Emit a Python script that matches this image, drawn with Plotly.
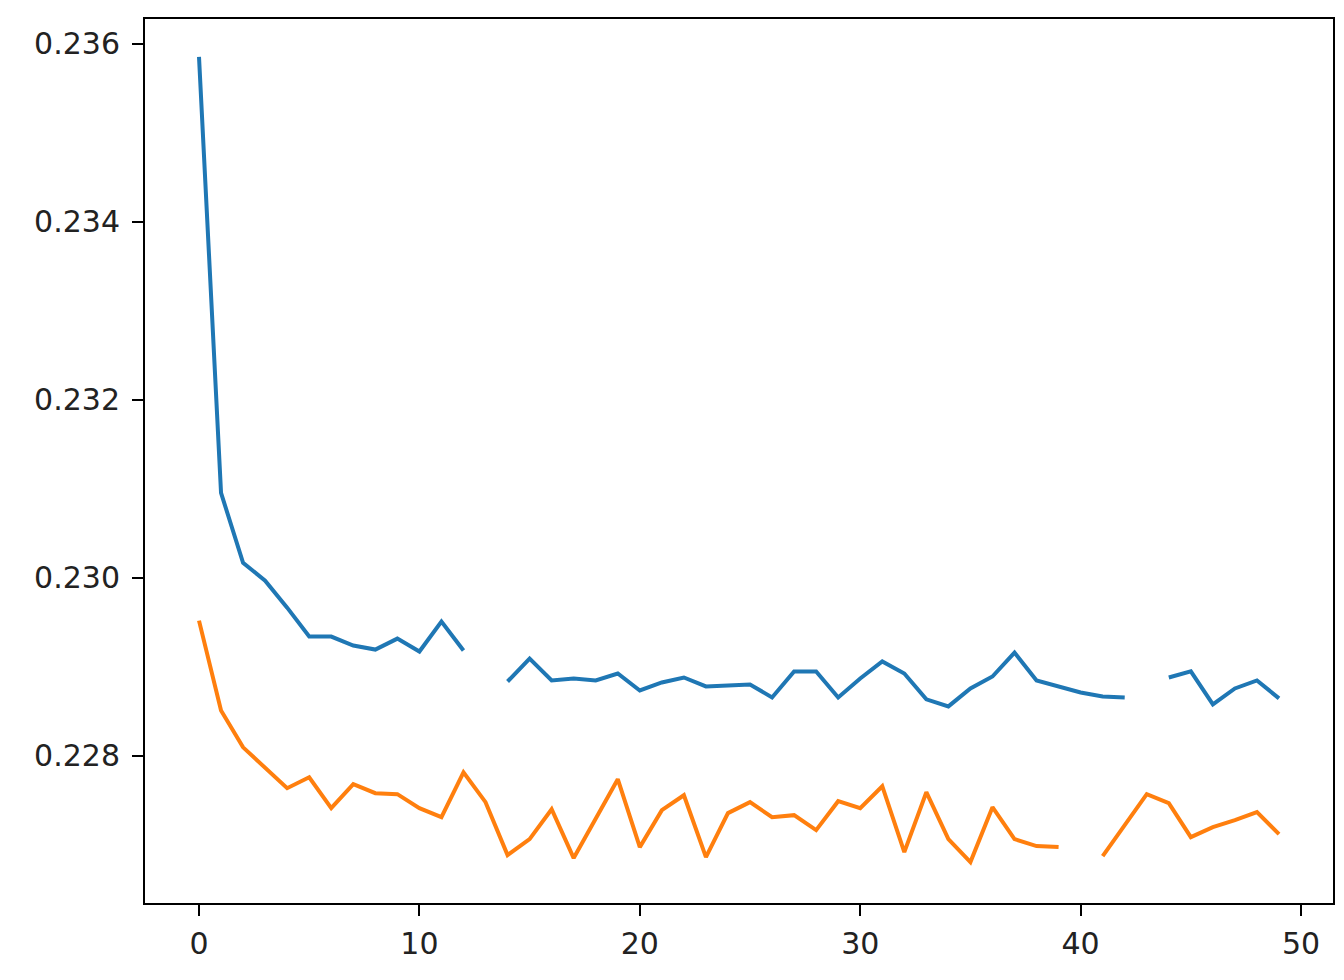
import plotly.graph_objects as go

# ── data ──────────────────────────────────────────────────────────────────
epochs = list(range(50))

blue_vals = [
    0.235854, 0.230955, 0.230170, 0.229969, 0.229666, 0.229341, 0.229341, 0.229240,
    0.229195, 0.229318, 0.229173, 0.229509, 0.229184, None, 0.228836, 0.229094,
    0.228848, 0.228870, 0.228848, 0.228926, 0.228735, 0.228825, 0.228881, 0.228780,
    0.228791, 0.228803, 0.228657, 0.228949, 0.228949, 0.228657, 0.228870, 0.229061,
    0.228926, 0.228635, 0.228556, 0.228758, 0.228892, 0.229161, 0.228848, 0.228780,
    0.228713, 0.228668, 0.228657, None, 0.228881, 0.228949, 0.228578, 0.228758,
    0.228848, 0.228646,
]

orange_vals = [
    0.229520, 0.228511, 0.228096, 0.227872, 0.227637, 0.227760, 0.227413, 0.227682,
    0.227581, 0.227570, 0.227413, 0.227312, 0.227816, 0.227480, 0.226886, 0.227065,
    0.227401, 0.226852, 0.227300, 0.227738, 0.226975, 0.227390, 0.227558, 0.226863,
    0.227357, 0.227480, 0.227312, 0.227334, 0.227166, 0.227491, 0.227413, 0.227659,
    0.226919, 0.227592, 0.227065, 0.226807, 0.227424, 0.227065, 0.226987, 0.226975,
    None, 0.226874, 0.227222, 0.227570, 0.227469, 0.227087, 0.227200, 0.227278,
    0.227368, 0.227121,
]

x_ticks = [0, 10, 20, 30, 40, 50]
y_ticks = [0.228, 0.230, 0.232, 0.234, 0.236]

# ── colours ──────────────────────────────────────────────────────────────
COLOR_BLUE   = '#1f77b4'
COLOR_ORANGE = '#ff7f0e'

fig = go.Figure()

for vals, color in [(blue_vals, COLOR_BLUE), (orange_vals, COLOR_ORANGE)]:
    fig.add_trace(go.Scatter(
        x          = epochs,
        y          = vals,
        mode       = 'lines',
        line       = dict(color=color, width=4),
        connectgaps = False,
        showlegend = False,
    ))

axis_style = dict(
    showline  = True,
    linecolor = 'black',
    linewidth = 2,
    mirror    = True,
    ticks     = 'outside',
    ticklen   = 11,
    tickwidth = 2,
    tickcolor = 'black',
    showgrid  = False,
    zeroline  = False,
    tickfont  = dict(family='DejaVu Sans', size=30, color='#222222'),
)

# page body has an 8px margin, so the figure is sized/offset to fit the window
fig.update_layout(
    width        = 1336,
    height       = 972,
    plot_bgcolor = 'white',
    paper_bgcolor = 'white',
    margin       = dict(l=137, r=9, t=9, b=77),
    xaxis        = dict(**axis_style, range=[-2.45, 51.45],
                        tickvals=x_ticks, ticklabelstandoff=2),
    yaxis        = dict(**axis_style, range=[0.226347, 0.23628],
                        tickvals=y_ticks, tickformat='.3f', ticklabelstandoff=6),
)

fig.write_html("out.html")
